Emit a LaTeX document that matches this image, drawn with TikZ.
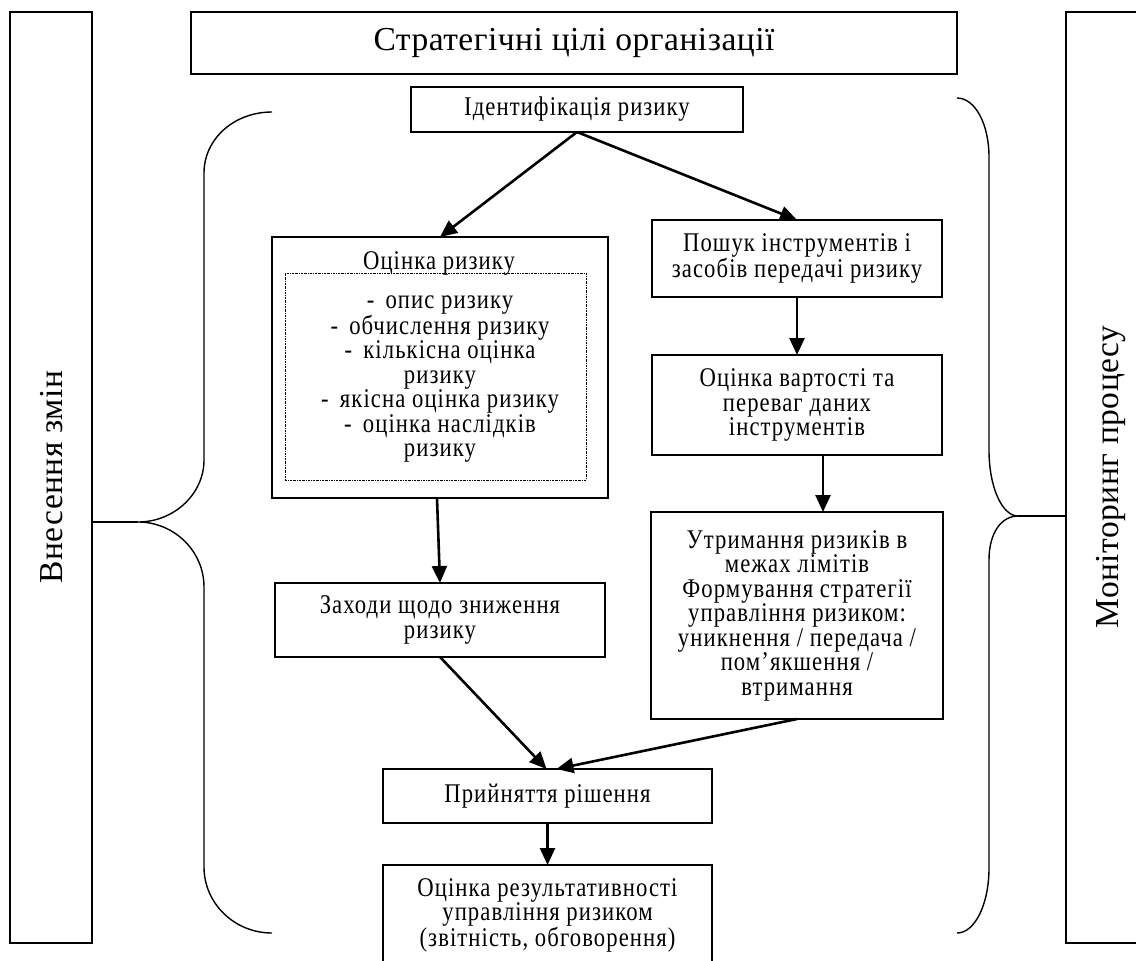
\documentclass[tikz,border=0pt]{standalone}
\usepackage{fontspec}
\setmainfont{Liberation Serif}
\newfontfamily\boxfont[FakeStretch=0.84, LetterSpace=4]{Liberation Serif}
\newfontfamily\bigfont[LetterSpace=1.5]{Liberation Serif}
\usetikzlibrary{arrows.meta,calc}
\tikzset{
  box/.style={draw, line width=1.6pt, inner sep=0pt, outer sep=0pt, align=center,
    font=\boxfont\fontsize{27}{24.5}\selectfont},
  txt/.style={inner sep=0pt, outer sep=0pt, align=center, font=\boxfont\fontsize{27}{24.5}\selectfont},
  big/.style={inner sep=0pt, font=\bigfont\fontsize{33.5}{36}\selectfont},
  arr/.style={line width=2.6pt, -{Triangle[length=17pt,width=15pt]}},
  bracepath/.style={line width=1.4pt},
  dotbox/.style={draw, line width=0.9pt, dash pattern=on 2pt off 1pt on 0.6pt off 1pt},
}
\begin{document}
\begin{tikzpicture}[x=1pt,y=-1pt]
\useasboundingbox (0,0) rectangle (1136,961);
\clip (0,0) rectangle (1136,961);

% side boxes
\node[box, minimum width=82pt, minimum height=931pt] (chg) at (51,477.5) {};
\node[big, rotate=90, anchor=base] (chgt) at (62,477) {Внесення змін};
\node[box, minimum width=100pt, minimum height=931pt] (mon) at (1116,477.5) {};
\node[big, rotate=90, anchor=base] (mont) at (1118,477) {Моніторинг процесу};

% top
\node[box, big, draw, line width=1.6pt, minimum width=766pt, minimum height=62pt] (top) at (574,43) {Стратегічні цілі організації};

% flow
\node[box, minimum width=332pt, minimum height=45pt] (id) at (577,109.5) {Ідентифікація ризику};

\node[box, minimum width=336pt, minimum height=261pt] (ocr) at (440,367.5) {};
\node[txt, anchor=base] (ocrt) at (439,269) {Оцінка ризику};
\node[dotbox, minimum width=301pt, minimum height=207pt] (ocri) at (435.5,376.5) {};
\node[txt] (ocrl) at (440,379) {-\, опис ризику\\-\, обчислення ризику\\-\, кількісна оцінка\\ризику\\-\, якісна оцінка ризику\\-\, оцінка наслідків\\ризику};

\node[box, minimum width=290pt, minimum height=77pt] (posh) at (797,258.5) {Пошук інструментів і\\засобів передачі ризику};
\node[box, minimum width=290pt, minimum height=100pt] (vart) at (797,405) {Оцінка вартості та\\переваг даних\\інструментів};
\node[box, minimum width=292pt, minimum height=207pt] (utr) at (797,615.5) {Утримання ризиків в\\межах лімітів\\Формування стратегії\\управління ризиком:\\уникнення / передача /\\пом’якшення /\\втримання};
\node[box, minimum width=330pt, minimum height=74pt] (zax) at (440,620) {Заходи щодо зниження\\ризику};
\node[box, minimum width=329pt, minimum height=54pt] (pr) at (547.5,796) {Прийняття рішення};
\node[box, anchor=north, minimum width=329pt, minimum height=101pt] (ores) at (547.5,865) {Оцінка результативності\\управління ризиком\\(звітність, обговорення)};

% arrows
\draw[arr] (id.south) -- (ocr.north);
\draw[arr] (id.south) -- (posh.north);
\draw[arr] (posh.south) -- (vart.north);
\draw[arr] ([xshift=26pt]vart.south) -- ([xshift=26pt]utr.north);
\draw[arr] ([xshift=-3pt]ocr.south) -- (zax.north);
\draw[arr] (zax.south) -- ([xshift=-1pt]pr.north);
\draw[arr] (utr.south) -- ([xshift=9pt]pr.north);
\draw[arr] (pr.south) -- (ores.north);

% braces
\coordinate (tipL) at (138,522);
\coordinate (tipR) at (1018,516);
\draw[bracepath] (272,112) .. controls (234,112) and (204,139) .. (204,173) -- (204,460)
  .. controls (204,494) and (174,522) .. (tipL)
  .. controls (174,522) and (204,551) .. (204,587) -- (204,867)
  .. controls (204,903) and (234,933) .. (272,933);
\draw[bracepath] (chg.east |- tipL) -- (tipL);
\draw[bracepath] (957,98) .. controls (975,98) and (989,124) .. (989,157) -- (989,450)
  .. controls (989,487) and (1002,516) .. (tipR)
  .. controls (1002,516) and (989,532) .. (989,560) -- (989,868)
  .. controls (989,904) and (975,933) .. (957,933);
\draw[bracepath] (tipR) -- (mon.west |- tipR);
\end{tikzpicture}
\end{document}
